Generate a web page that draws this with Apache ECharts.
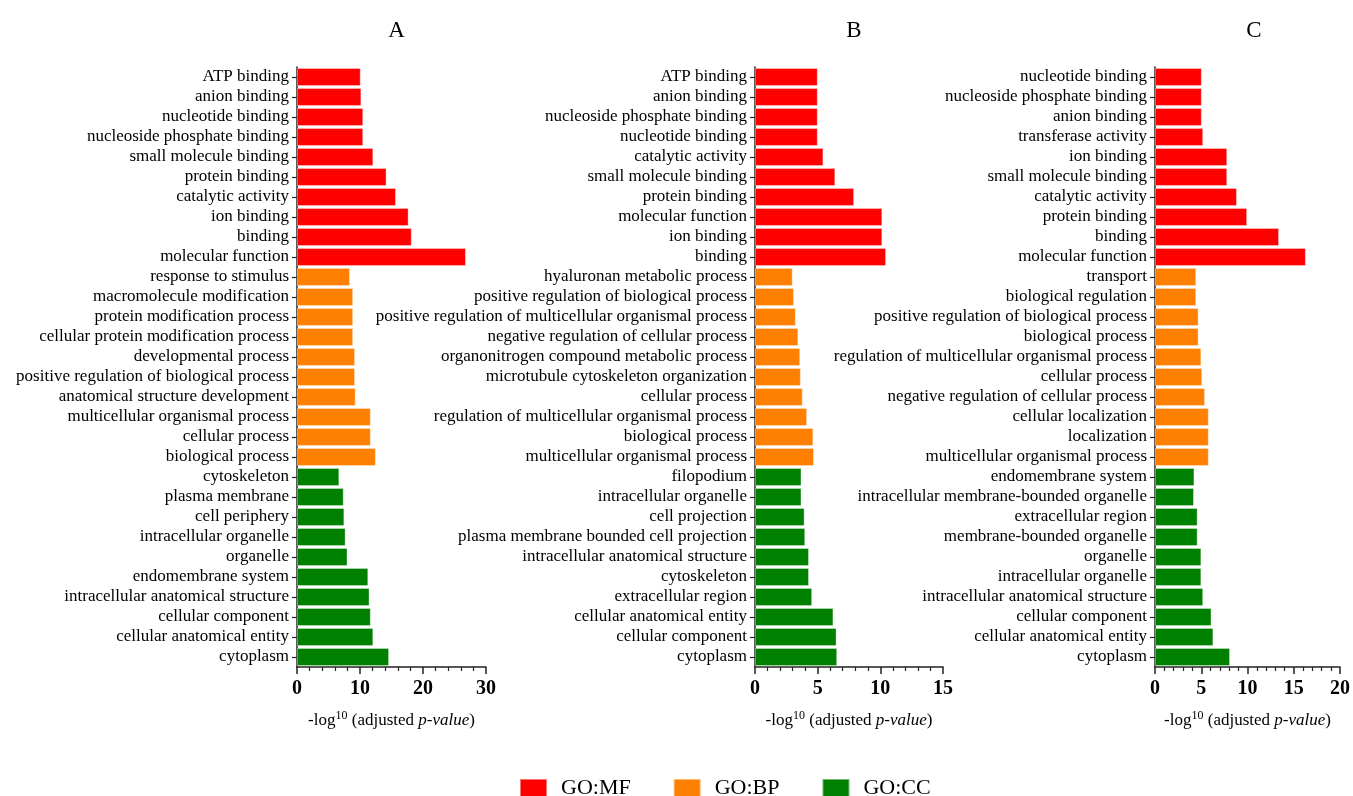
<!DOCTYPE html>
<html>
<head>
<meta charset="utf-8">
<title>GO enrichment</title>
<script src="https://cdn.jsdelivr.net/npm/echarts@6/dist/echarts.min.js"></script>
<style>
  html, body { margin: 0; padding: 0; background: #fff; }
  #chart { width: 1353px; height: 796px; }
</style>
</head>
<body>
<div id="chart"></div>
<script>
// Panel A terms (top to bottom) and -log10 adjusted p-values
const termsA = [
  'ATP binding', 'anion binding', 'nucleotide binding', 'nucleoside phosphate binding',
  'small molecule binding', 'protein binding', 'catalytic activity', 'ion binding',
  'binding', 'molecular function',
  'response to stimulus', 'macromolecule modification', 'protein modification process',
  'cellular protein modification process', 'developmental process',
  'positive regulation of biological process', 'anatomical structure development',
  'multicellular organismal process', 'cellular process', 'biological process',
  'cytoskeleton', 'plasma membrane', 'cell periphery', 'intracellular organelle',
  'organelle', 'endomembrane system', 'intracellular anatomical structure',
  'cellular component', 'cellular anatomical entity', 'cytoplasm'
];
const mfA = [10.1, 10.2, 10.5, 10.5, 12.1, 14.2, 15.7, 17.7, 18.2, 26.8];
const bpA = [8.4, 8.9, 8.9, 8.9, 9.2, 9.2, 9.3, 11.7, 11.7, 12.5];
const ccA = [6.7, 7.4, 7.5, 7.7, 8.0, 11.3, 11.5, 11.7, 12.1, 14.6];

// Panel B
const termsB = [
  'ATP binding', 'anion binding', 'nucleoside phosphate binding', 'nucleotide binding',
  'catalytic activity', 'small molecule binding', 'protein binding',
  'molecular function', 'ion binding', 'binding',
  'hyaluronan metabolic process', 'positive regulation of biological process',
  'positive regulation of multicellular organismal process',
  'negative regulation of cellular process', 'organonitrogen compound metabolic process',
  'microtubule cytoskeleton organization', 'cellular process',
  'regulation of multicellular organismal process', 'biological process',
  'multicellular organismal process',
  'filopodium', 'intracellular organelle', 'cell projection',
  'plasma membrane bounded cell projection', 'intracellular anatomical structure',
  'cytoskeleton', 'extracellular region', 'cellular anatomical entity',
  'cellular component', 'cytoplasm'
];
const mfB = [5.0, 5.0, 5.0, 5.0, 5.45, 6.4, 7.9, 10.15, 10.15, 10.45];
const bpB = [3.0, 3.1, 3.25, 3.45, 3.6, 3.65, 3.8, 4.15, 4.65, 4.7];
const ccB = [3.7, 3.7, 3.95, 4.0, 4.3, 4.3, 4.55, 6.25, 6.5, 6.55];

// Panel C
const termsC = [
  'nucleotide binding', 'nucleoside phosphate binding', 'anion binding',
  'transferase activity', 'ion binding', 'small molecule binding',
  'catalytic activity', 'protein binding', 'binding', 'molecular function',
  'transport', 'biological regulation', 'positive regulation of biological process',
  'biological process', 'regulation of multicellular organismal process',
  'cellular process', 'negative regulation of cellular process',
  'cellular localization', 'localization', 'multicellular organismal process',
  'endomembrane system', 'intracellular membrane-bounded organelle',
  'extracellular region', 'membrane-bounded organelle', 'organelle',
  'intracellular organelle', 'intracellular anatomical structure',
  'cellular component', 'cellular anatomical entity', 'cytoplasm'
];
const mfC = [5.05, 5.05, 5.05, 5.2, 7.8, 7.8, 8.85, 9.95, 13.4, 16.3];
const bpC = [4.45, 4.45, 4.7, 4.7, 5.0, 5.1, 5.4, 5.8, 5.8, 5.8];
const ccC = [4.25, 4.2, 4.6, 4.6, 5.0, 5.0, 5.2, 6.1, 6.3, 8.1];

const panelTitles = ['A', 'B', 'C'];
const axisMax = [30, 15, 20];
const axisStep = [10, 5, 5];
const groupNames = ['GO:MF', 'GO:BP', 'GO:CC'];
const groupColors = ['#ff0000', '#ff8000', '#008000'];

const FONT = '"Liberation Serif", "Times New Roman", serif';

const panels = [
  { terms: termsA, groups: [mfA, bpA, ccA] },
  { terms: termsB, groups: [mfB, bpB, ccB] },
  { terms: termsC, groups: [mfC, bpC, ccC] }
];

// plot-area placement of each panel
const gridLeft = [297, 755, 1155];
const gridWidth = [189, 188, 188];

const grid = [], xAxis = [], yAxis = [], series = [], title = [];

panels.forEach((p, i) => {
  grid.push({ left: gridLeft[i], width: gridWidth[i], top: 67, height: 600 });
  title.push({
    text: panelTitles[i],
    left: gridLeft[i] + gridWidth[i] / 2,
    top: 14,
    textAlign: 'center',
    textStyle: { fontFamily: FONT, fontSize: 23, fontWeight: 'normal', color: '#000' }
  });
  xAxis.push({
    type: 'value', gridIndex: i, min: 0, max: axisMax[i], interval: axisStep[i],
    axisLine: { show: true, lineStyle: { color: '#222', width: 1.5 } },
    axisTick: { show: true, length: 7, lineStyle: { color: '#222', width: 1.5 } },
    minorTick: { show: true, splitNumber: 5, length: 4,
      lineStyle: { color: '#222', width: 1.2 } },
    splitLine: { show: false },
    axisLabel: { fontFamily: FONT, fontSize: 20, fontWeight: 'bold', color: '#000', margin: 12 },
    name: '-log{sup|10} (adjusted {it|p-value})',
    nameLocation: 'middle',
    nameGap: 43,
    nameTextStyle: {
      fontFamily: FONT, fontSize: 17, color: '#000',
      rich: {
        sup: { fontFamily: FONT, fontSize: 12, color: '#000', verticalAlign: 'bottom', padding: [0, 0, 9, 0] },
        it: { fontFamily: FONT, fontSize: 17, fontStyle: 'italic', color: '#000' }
      }
    }
  });
  yAxis.push({
    type: 'category', gridIndex: i, data: p.terms, inverse: true,
    axisLine: { show: true, lineStyle: { color: '#222', width: 1.5 } },
    axisTick: { show: true, length: 5, alignWithLabel: true, lineStyle: { color: '#222', width: 1.2 } },
    axisLabel: { fontFamily: FONT, fontSize: 17, color: '#000', margin: 8, interval: 0 }
  });
  // one series per GO group; each fills only its own ten rows
  p.groups.forEach((vals, g) => {
    const data = p.terms.map((_, k) => {
      const local = k - g * 10;
      return local >= 0 && local < 10 ? vals[local] : '-';
    });
    series.push({
      type: 'bar', name: groupNames[g], xAxisIndex: i, yAxisIndex: i,
      data: data, barGap: '-100%', barCategoryGap: '10%',
      itemStyle: { color: groupColors[g], borderColor: 'rgba(255,255,255,0.45)', borderWidth: 0.8 },
      silent: true, animation: false
    });
  });
});

const chart = echarts.init(document.getElementById('chart'), null, { renderer: 'canvas' });
chart.setOption({
  backgroundColor: '#fff',
  animation: false,
  title: title,
  grid: grid,
  xAxis: xAxis,
  yAxis: yAxis,
  series: series,
  legend: {
    data: groupNames,
    top: 772,
    left: 514,
    itemWidth: 27,
    itemHeight: 18,
    itemGap: 42,
    icon: 'rect',
    textStyle: { fontFamily: FONT, fontSize: 22, color: '#000', padding: [0, 0, 0, 9] }
  }
});
</script>
</body>
</html>
